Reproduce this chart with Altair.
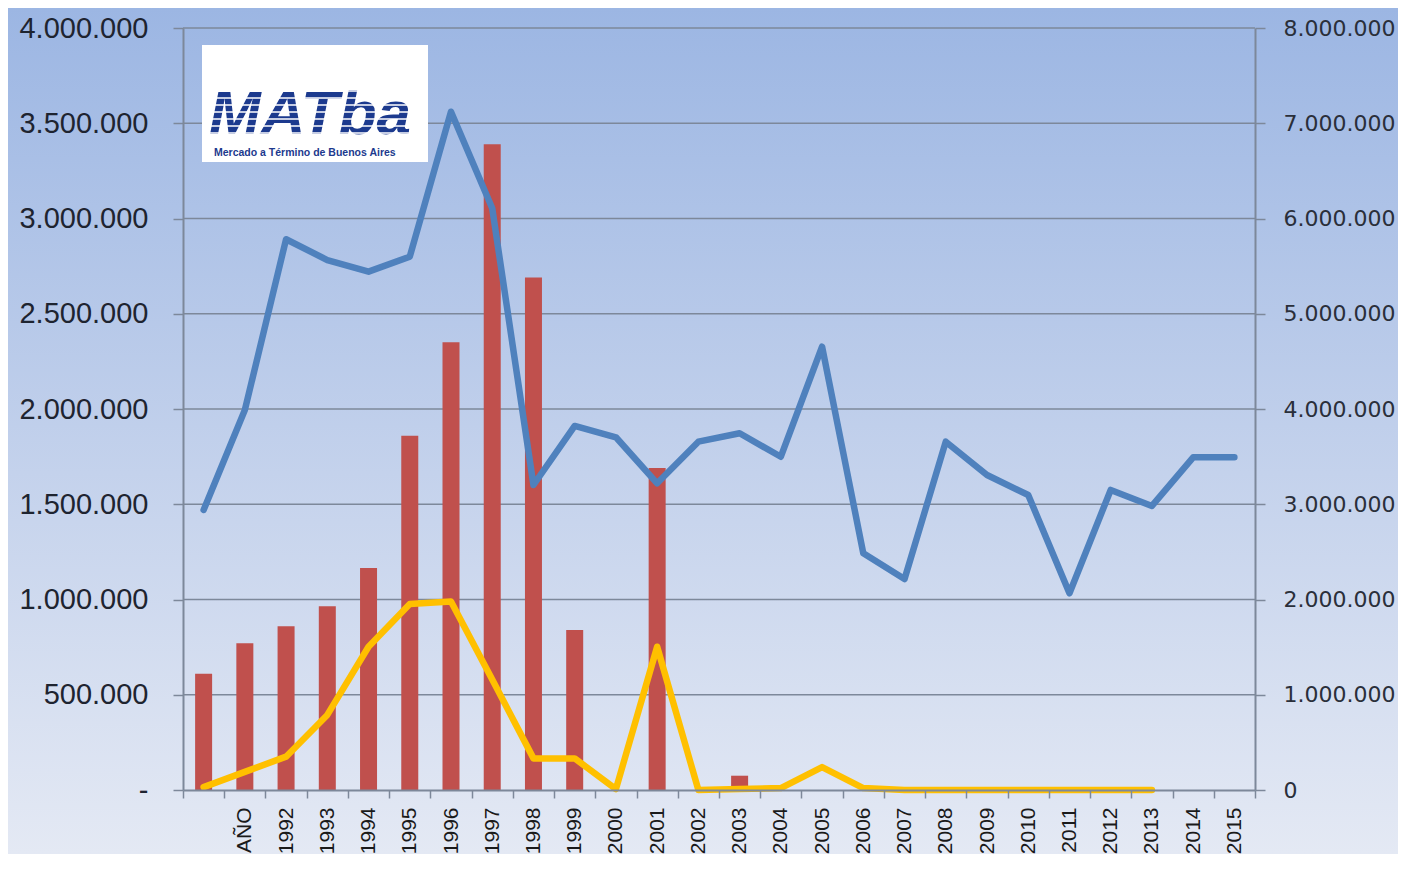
import altair as alt
import pandas as pd

categories = [" ", "AÑO", "1992", "1993", "1994", "1995", "1996", "1997", "1998", "1999",
              "2000", "2001", "2002", "2003", "2004", "2005", "2006", "2007", "2008", "2009",
              "2010", "2011", "2012", "2013", "2014", "2015"]

bars_red = [610000, 770000, 860000, 965000, 1165000, 1860000, 2350000, 3390000, 2690000, 840000,
            None, 1690000, None, 75000, None, None, None, None, None, None,
            None, None, None, None, None, None]

line_yellow = [15000, 95000, 175000, 394000, 752000, 976000, 989000, 580000, 166000, 166000,
               5000, 752000, 0, 5000, 10000, 120000, 10000, 0, 0, 0,
               0, 0, 0, 0, None, None]

line_blue = [2940000, 3990000, 5782000, 5564000, 5442000, 5599000, 7121000, 6107000, 3202000, 3822000,
             3703000, 3220000, 3657000, 3745000, 3499000, 4654000, 2485000, 2215000, 3657000, 3307000,
             3097000, 2065000, 3150000, 2982000, 3493000, 3493000]

left_ticks = [0, 500000, 1000000, 1500000, 2000000, 2500000, 3000000, 3500000, 4000000]
right_ticks = [0, 1000000, 2000000, 3000000, 4000000, 5000000, 6000000, 7000000, 8000000]

df = pd.DataFrame({"cat": categories, "red": bars_red, "yellow": line_yellow, "blue": line_blue})
grid_df = pd.DataFrame({"v": left_ticks[1:]})
one = pd.DataFrame({"k": [0]})

W, H = 1072, 762
PL, PT, PR, PB = 175, 20, 143, 64
GRID = "#7d889a"

x_enc = alt.X("cat:N", sort=categories,
              scale=alt.Scale(paddingInner=0, paddingOuter=0),
              axis=alt.Axis(title=None, labelAngle=-90, tickBand="extent", tickSize=8,
                            tickColor=GRID, tickWidth=1.5, domainColor=GRID, domainWidth=2,
                            labelFont="Liberation Sans", labelFontSize=21, labelColor="#1a1a1a",
                            labelPadding=9, grid=False, zindex=1))

left_scale = alt.Scale(domain=[0, 4000000], nice=False)
right_scale = alt.Scale(domain=[0, 8000000], nice=False)

left_axis = alt.Axis(title=None, orient="left", values=left_ticks,
                     labelExpr="datum.value == 0 ? '-' : replace(format(datum.value, ','), regexp(',', 'g'), '.')",
                     labelFont="Liberation Sans", labelFontSize=29, labelColor="#1e2430",
                     labelPadding=25, tickSize=10, tickColor=GRID, tickWidth=1.5,
                     domainColor=GRID, domainWidth=2, grid=False, zindex=1)

bg = alt.Chart(one).mark_rect(
    color=alt.Gradient(gradient="linear",
                       stops=[alt.GradientStop(color="#9cb6e3", offset=0),
                              alt.GradientStop(color="#c4d2ec", offset=0.55),
                              alt.GradientStop(color="#e4e9f4", offset=1)],
                       x1=0, x2=0, y1=0, y2=1)
).encode(x=alt.value(-PL), x2=alt.value(W + PR), y=alt.value(-PT), y2=alt.value(H + PB))

grid = alt.Chart(grid_df).mark_rule(color=GRID, strokeWidth=1.6).encode(
    y=alt.Y("v:Q", scale=left_scale, axis=left_axis)
)

base = alt.Chart(df)

bars = base.mark_bar(color="#c0504d", size=17).encode(
    x=x_enc,
    y=alt.Y("red:Q", scale=left_scale, axis=left_axis)
)

yellow = base.mark_line(color="#ffc000", strokeWidth=6.5, strokeJoin="round", strokeCap="round").encode(
    x=x_enc,
    y=alt.Y("yellow:Q", scale=left_scale, axis=left_axis)
)

blue = base.mark_line(color="#4f81bd", strokeWidth=6.5, strokeJoin="round", strokeCap="round").encode(
    x=x_enc,
    y=alt.Y("blue:Q", scale=right_scale,
            axis=alt.Axis(title=None, orient="right", values=right_ticks,
                          labelExpr="replace(format(datum.value, ','), regexp(',', 'g'), '.')",
                          labelFont="DejaVu Sans", labelFontSize=22, labelColor="#2a2f3a",
                          labelPadding=18, tickSize=10, tickColor=GRID, tickWidth=1.5,
                          domainColor=GRID, domainWidth=2, grid=False, zindex=1))
)

left_layer = alt.layer(grid, bars, yellow)

# logo
logo_box = alt.Chart(one).mark_rect(color="white").encode(
    x=alt.value(19), x2=alt.value(245), y=alt.value(17), y2=alt.value(134))
logo_text = alt.Chart(one).mark_text(
    align="left", baseline="alphabetic", font="Liberation Sans", fontSize=62,
    fontWeight="bold", fontStyle="italic", color="#1c3a8e"
).encode(x=alt.value(26), y=alt.value(106), text=alt.value("MATba"))
stripes = []
for i in range(10):
    yy = 42 + i * 7
    stripes.append(alt.Chart(one).mark_rule(color="white", strokeWidth=1.6).encode(
        x=alt.value(24), x2=alt.value(240), y=alt.value(yy)))
logo_sub = alt.Chart(one).mark_text(
    align="left", baseline="alphabetic", font="Liberation Sans", fontSize=10.5,
    fontWeight="bold", color="#1c3a8e"
).encode(x=alt.value(31), y=alt.value(128), text=alt.value("Mercado a Término de Buenos Aires"))

chart = alt.layer(bg, left_layer, blue, logo_box, logo_text, *stripes, logo_sub).resolve_scale(
    y="independent"
).properties(
    width=W, height=H,
    padding={"left": PL, "top": PT, "right": PR, "bottom": PB},
    autosize=alt.AutoSizeParams(type="none"),
    background="#e2e8f4"
).configure_view(stroke=None)

chart.save("out.html", embed_options={"renderer": "svg", "actions": False})
